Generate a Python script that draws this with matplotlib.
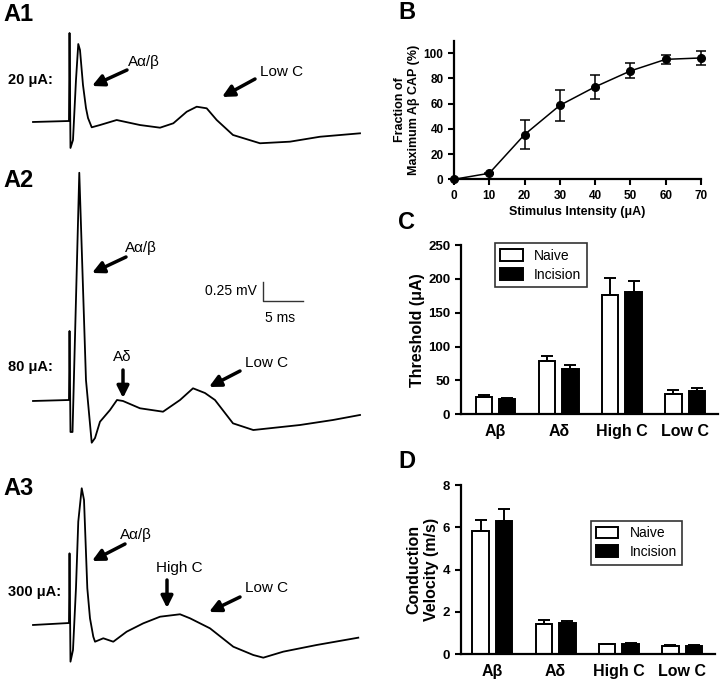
import matplotlib
matplotlib.use('Agg')
import matplotlib.pyplot as plt
import numpy as np

plt.rcParams['font.family'] = ['Liberation Sans', 'DejaVu Sans']

# ---- A: compound action potential traces (time in ms, voltage in mV) ----
a1_t = [-4.70, -0.13, -0.06, 0.06, 0.38, 0.76, 1.05, 1.27, 1.65, 2.03, 2.29, 2.76, 3.81,
        5.93, 8.89, 11.44, 13.13, 14.83, 16.10, 17.37, 18.64, 20.71, 24.14, 27.95, 31.77, 36.85]
a1_v = [-0.013, 0.0, 1.158, -0.355, -0.25, 0.539, 1.013, 0.934, 0.474, 0.171, 0.039, -0.083, -0.053,
        0.013, -0.053, -0.088, -0.030, 0.122, 0.188, 0.167, 0.013, -0.184, -0.293, -0.272, -0.207, -0.162]

a2_t = [-4.70, -0.13, -0.06, 0.06, 0.32, 1.18, 2.03, 2.76, 3.18, 3.81, 5.08, 5.97, 6.73, 8.89,
        11.82, 13.98, 15.63, 17.15, 18.42, 20.71, 23.29, 29.22, 33.42, 36.85]
a2_v = [-0.013, 0.0, 0.908, -0.421, -0.421, 2.99, 0.263, -0.562, -0.50, -0.286, -0.132, 0.0, -0.013, -0.109,
        -0.154, 0.0, 0.154, 0.092, 0.0, -0.307, -0.395, -0.329, -0.263, -0.197]

a3_t = [-4.70, -0.13, -0.06, 0.06, 0.38, 0.76, 1.05, 1.49, 1.78, 2.20, 2.54, 2.96, 3.18, 4.23,
        5.50, 7.20, 9.31, 11.44, 13.98, 15.25, 17.79, 20.75, 23.29, 24.56, 27.10, 31.35, 36.63]
a3_v = [-0.013, 0.013, 0.930, -0.496, -0.342, 0.474, 1.346, 1.786, 1.632, 0.470, 0.075, -0.167, -0.233, -0.188,
        -0.233, -0.101, 0.009, 0.096, 0.128, 0.075, -0.057, -0.299, -0.408, -0.443, -0.364, -0.276, -0.180]

# ---- B: recruitment curve ----
b_x = [0, 10, 20, 30, 40, 50, 60, 70]
b_y = [0, 4.8, 35.5, 58.7, 73.4, 86.0, 95.2, 96.3]
b_err = [0, 0.5, 11.5, 12.5, 9.3, 6.0, 3.8, 5.4]

# ---- C / D: bars ----
groups = ['A\u03b2', 'A\u03b4', 'High C', 'Low C']
c_naive = [26, 78.7, 176, 30]
c_naive_err = [2.5, 7, 24.6, 5.5]
c_inc = [22, 67.4, 181, 35]
c_inc_err = [1.5, 6, 15.5, 4.5]

d_naive = [5.84, 1.42, 0.49, 0.41]
d_naive_err = [0.5, 0.18, 0.02, 0.03]
d_inc = [6.30, 1.46, 0.50, 0.40]
d_inc_err = [0.55, 0.13, 0.02, 0.03]

W, H = 720, 681
fig = plt.figure(figsize=(7.2, 6.81), dpi=100)


def px_axes(left, top, right, bottom):
    return fig.add_axes([left / W, 1 - bottom / H, (right - left) / W, (bottom - top) / H])


# traces: 7.87 px per ms, 76 px per mV, stimulus at x=70 px
PX_MS, PX_MV, X0 = 7.87, 76.0, 70.0
traces = [(a1_t, a1_v, 0, 220, 121), (a2_t, a2_v, 150, 460, 400), (a3_t, a3_v, 465, 681, 624)]
trace_axes = []
for t, v, top, bottom, base in traces:
    ax = px_axes(0, top, 440, bottom)
    ax.plot(t, v, color='black', lw=1.3)
    ax.set_xlim((0 - X0) / PX_MS, (440 - X0) / PX_MS)
    ax.set_ylim((base - bottom) / PX_MV, (base - top) / PX_MV)
    ax.axis('off')
    ax.patch.set_alpha(0)
    trace_axes.append(ax)

# scale bar in A2 data units
sb_t, sb_v = 24.56, 1.307
trace_axes[1].plot([sb_t, sb_t, sb_t + 5], [sb_v + 0.25, sb_v, sb_v], color='#333333', lw=1)

# overlay for labels and arrows (pixel coords)
ov = fig.add_axes([0, 0, 1, 1])
ov.set_xlim(0, W)
ov.set_ylim(H, 0)
ov.axis('off')
ov.patch.set_alpha(0)

for lab, y in [('A1', 21), ('A2', 187), ('A3', 495)]:
    ov.text(3, y, lab, fontsize=17, fontweight='bold', va='baseline', ha='left')
for lab, y in [('20 \u03bcA:', 80), ('80 \u03bcA:', 367), ('300 \u03bcA:', 592)]:
    ov.text(8, y, lab, fontsize=10.5, fontweight='bold', va='center', ha='left')

arrow = dict(arrowstyle='-|>,head_length=0.7,head_width=0.35', lw=2.5, color='black',
             shrinkA=0, shrinkB=0)
notes = [
    ('A\u03b1/\u03b2', 128, 62, 'left', (127, 70), (92, 86)),
    ('Low C', 260, 72, 'left', (255, 79), (222, 97)),
    ('A\u03b1/\u03b2', 125, 248, 'left', (126, 257), (92, 273)),
    ('A\u03b4', 122, 357, 'center', (123, 370), (123, 398)),
    ('Low C', 245, 363, 'left', (240, 371), (209, 387)),
    ('A\u03b1/\u03b2', 120, 535, 'left', (125, 544), (92, 561)),
    ('High C', 179, 568, 'center', (167, 580), (167, 608)),
    ('Low C', 245, 588, 'left', (240, 597), (209, 612)),
]
for txt, x, y, ha, tail, head in notes:
    ov.text(x, y, txt, fontsize=11, va='center', ha=ha)
    ov.annotate('', xy=head, xytext=tail, arrowprops=arrow)

ov.text(257, 291, '0.25 mV', fontsize=10, va='center', ha='right')
ov.text(280, 318, '5 ms', fontsize=10, va='center', ha='center')

for lab, y in [('B', 19), ('C', 229), ('D', 468)]:
    ov.text(398, y, lab, fontsize=17, fontweight='bold', va='baseline', ha='left')


def style(ax, tick_size):
    for s in ['top', 'right']:
        ax.spines[s].set_visible(False)
    for s in ['left', 'bottom']:
        ax.spines[s].set_linewidth(1.6)
    ax.tick_params(width=1.5, length=4, labelsize=tick_size, direction='out')
    for lbl in ax.get_xticklabels() + ax.get_yticklabels():
        lbl.set_fontweight('bold')


# ---- B ----
axB = px_axes(454, 40.7, 701, 179.3)
axB.errorbar(b_x, b_y, yerr=b_err, fmt='o-', color='black', ms=5.5, lw=1.1,
             elinewidth=1.1, capsize=3.5, capthick=1.1, clip_on=False)
axB.set_xlim(0, 70)
axB.set_ylim(0, 110)
axB.set_xticks(b_x)
axB.set_yticks([0, 20, 40, 60, 80, 100])
style(axB, 8.5)
axB.set_xlabel('Stimulus Intensity (\u03bcA)', fontsize=9, fontweight='bold', labelpad=3)
axB.set_ylabel('Fraction of\nMaximum A\u03b2 CAP (%)', fontsize=9, fontweight='bold', labelpad=3)


def bars(ax, naive, naive_err, inc, inc_err):
    x = np.arange(len(groups))
    off, bw = 0.185, 0.26
    ax.bar(x - off, naive, bw, color='white', edgecolor='black', lw=1.4, label='Naive')
    ax.bar(x + off, inc, bw, color='black', edgecolor='black', lw=1.4, label='Incision')
    ax.errorbar(x - off, naive, yerr=[np.zeros(4), naive_err], fmt='none', ecolor='black',
                elinewidth=1.4, capsize=4, capthick=1.4)
    ax.errorbar(x + off, inc, yerr=[np.zeros(4), inc_err], fmt='none', ecolor='black',
                elinewidth=1.4, capsize=4, capthick=1.4)
    ax.set_xticks(x)
    ax.set_xticklabels(groups)
    style(ax, 9.5)
    ax.tick_params(axis='x', length=0, labelsize=11.5, pad=7)
    for lbl in ax.get_xticklabels():
        lbl.set_fontweight('bold')


def legend(ax, anchor):
    leg = ax.legend(loc='upper left', bbox_to_anchor=anchor, fontsize=10, frameon=True,
                    fancybox=False, edgecolor='black', borderpad=0.4, borderaxespad=0,
                    handlelength=1.6, handleheight=0.9, labelspacing=0.35)
    leg.get_frame().set_linewidth(1.2)


# ---- C ----
axC = px_axes(460.7, 245, 718, 414.3)
bars(axC, c_naive, c_naive_err, c_inc, c_inc_err)
axC.set_xlim(-0.55, 3.52)
axC.set_ylim(0, 250)
axC.set_yticks([0, 50, 100, 150, 200, 250])
axC.set_ylabel('Threshold (\u03bcA)', fontsize=11.5, fontweight='bold', labelpad=2)
legend(axC, (0.133, 1.01))

# ---- D ----
axD = px_axes(460.7, 485, 715, 654.3)
bars(axD, d_naive, d_naive_err, d_inc, d_inc_err)
axD.set_xlim(-0.5, 3.52)
axD.set_ylim(0, 8)
axD.set_yticks([0, 2, 4, 6, 8])
axD.set_ylabel('Conduction\nVelocity (m/s)', fontsize=11.5, fontweight='bold', labelpad=3)
legend(axD, (0.511, 0.79))

fig.savefig('out.png', dpi=100)
